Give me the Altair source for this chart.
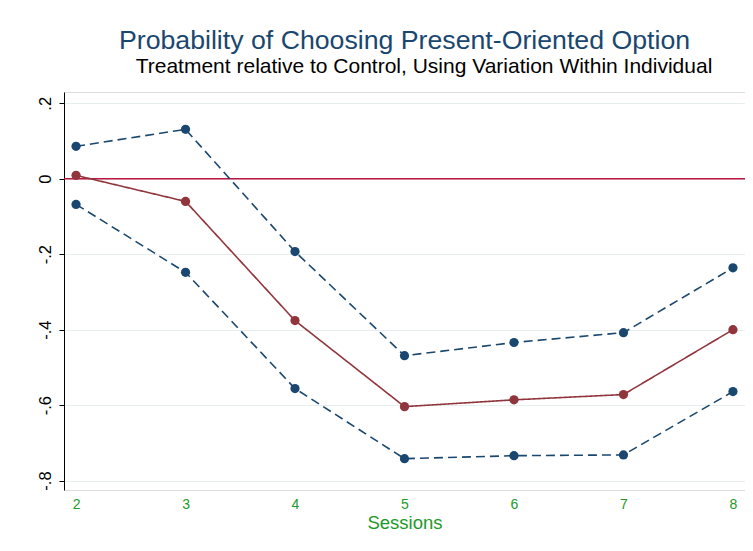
import altair as alt
import pandas as pd

sessions = [2, 3, 4, 5, 6, 7, 8]
upper = [0.086, 0.131, -0.193, -0.469, -0.434, -0.408, -0.236]
estimate = [0.009, -0.060, -0.376, -0.604, -0.586, -0.572, -0.400]
lower = [-0.068, -0.248, -0.556, -0.742, -0.734, -0.732, -0.564]
y_ticks = [0.2, 0.0, -0.2, -0.4, -0.6, -0.8]
title_text = "Probability of Choosing Present-Oriented Option"
subtitle_text = "Treatment relative to Control, Using Variation Within Individual"

df = pd.DataFrame({"session": sessions, "upper": upper, "estimate": estimate, "lower": lower})
ref = pd.DataFrame({"y": [0.0]})
sub = pd.DataFrame({"t": [subtitle_text]})

BLUE = "#1a476f"
RED = "#90353b"
GREEN = "#1e9a2a"
FONT = "Liberation Sans"

xscale = alt.Scale(domain=[1.89, 8.11], nice=False, zero=False)
yscale = alt.Scale(domain=[-0.825, 0.23], nice=False, zero=False)

xaxis = alt.Axis(title="Sessions", values=sessions, format="d", domain=False, ticks=False, grid=False,
                 labelColor=GREEN, titleColor=GREEN, labelFontSize=14, titleFontSize=18.5,
                 titleFontWeight="normal", labelPadding=7, titlePadding=2, labelFont=FONT,
                 titleFont=FONT)
yaxis = alt.Axis(title=None, values=y_ticks, labelAngle=-90, labelAlign="center", labelBaseline="bottom",
                 labelExpr="datum.value == 0 ? '0' : (datum.value < 0 ? '-' : '') + replace(format(abs(datum.value), '.1f'), '0.', '.')",
                 labelFontSize=16.5, labelColor="black", labelPadding=6, tickSize=5, tickColor="black",
                 domainColor="black", gridColor="#e6eef0", grid=True, labelFont=FONT)

base = alt.Chart(df)

def series(col, color, dash):
    line = base.mark_line(color=color, strokeWidth=1.6, strokeDash=dash).encode(
        x=alt.X("session:Q", scale=xscale, axis=xaxis),
        y=alt.Y(f"{col}:Q", scale=yscale, axis=yaxis),
    )
    pts = base.mark_circle(color=color, size=85, opacity=1).encode(
        x=alt.X("session:Q", scale=xscale),
        y=alt.Y(f"{col}:Q", scale=yscale),
    )
    return line + pts

zero = alt.Chart(ref).mark_rule(color="#bd1640", strokeWidth=1.6).encode(
    y=alt.Y("y:Q", scale=yscale)
)

subtitle = alt.Chart(sub).mark_text(fontSize=21, font=FONT, color="black", align="center",
                                    baseline="middle").encode(
    text="t:N", x=alt.value(360), y=alt.value(-25)
)

chart = alt.layer(
    zero,
    series("upper", BLUE, [9, 5]),
    series("lower", BLUE, [9, 5]),
    series("estimate", RED, [1, 0]),
    subtitle,
).properties(
    width=681,
    height=398,
    autosize=alt.AutoSizeParams(type="none"),
    padding={"left": 56, "top": 84, "right": 0, "bottom": 50},
    title=alt.TitleParams(
        text=title_text,
        anchor="middle", color=BLUE, fontSize=26.7, fontWeight="normal", font=FONT,
        offset=1,
    ),
).configure_view(stroke=None).configure(background="white")

chart.save("out.html", embed_options={"renderer": "svg", "actions": False})
